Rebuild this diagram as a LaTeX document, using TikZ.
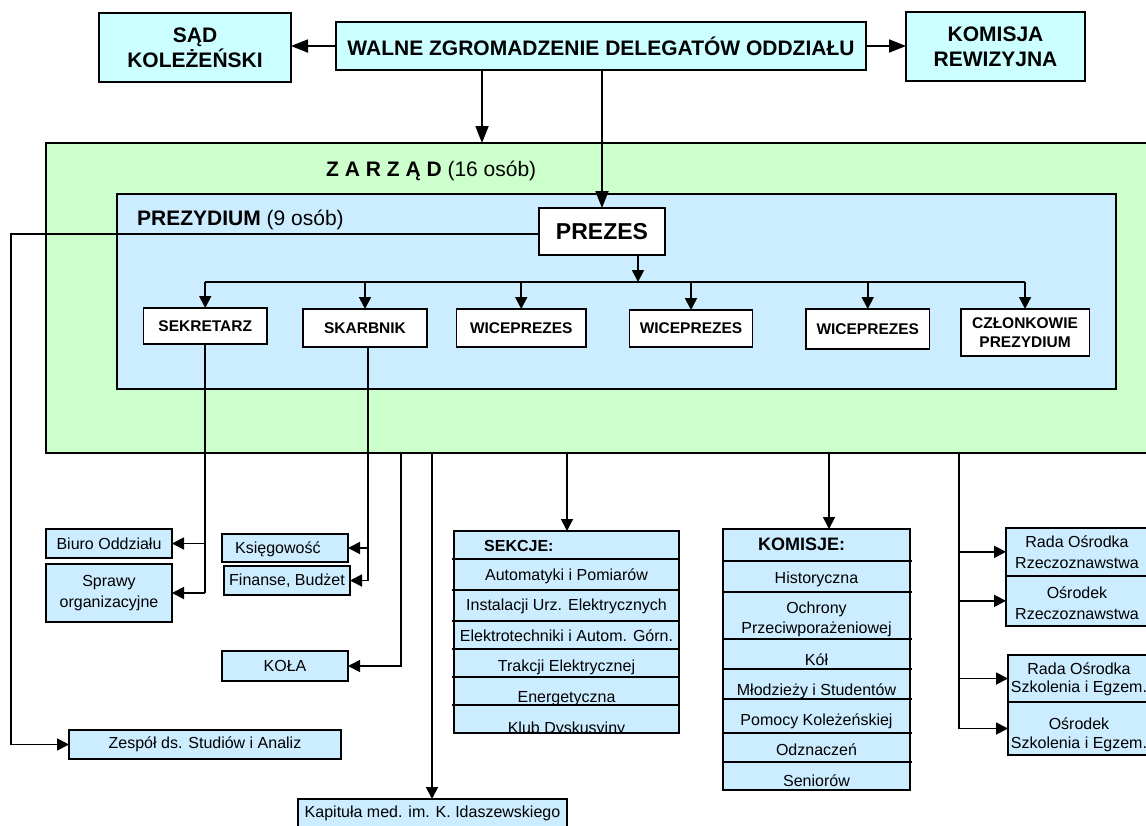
\documentclass[tikz,border=0pt]{standalone}
\usepackage{fontspec}
\setmainfont{Liberation Sans}
\usetikzlibrary{arrows.meta}
\definecolor{cyanbox}{HTML}{CCFFFF}
\definecolor{zarzadbg}{HTML}{CCFFCC}
\definecolor{prezbg}{HTML}{CCECFF}
\newcommand\myfs[2]{\fontsize{#1}{#2}\selectfont}
% \mybox{style}{name}{x1}{y1}{x2}{y2}{text}
\newcommand\mybox[7]{\node[#1, minimum width={(#5-#3)*1pt}, minimum height={(#6-#4)*1pt}] (#2) at ({(#3+#5)/2},{(#4+#6)/2}) {#7};}
\begin{document}
\begin{tikzpicture}[x=1pt,y=-1pt,
  rect/.style={draw=black,line width=1.8pt,inner sep=0pt,outer sep=0pt,align=center},
  topbox/.style={rect,fill=cyanbox,font=\myfs{21}{25}\bfseries},
  rolebox/.style={rect,fill=white,font=\myfs{15.5}{19}\bfseries},
  unitbox/.style={rect,fill=prezbg,font=\myfs{16}{20.5}},
  lbl/.style={inner sep=0pt,font=\myfs{16}{20}},
  blbl/.style={inner sep=0pt,font=\myfs{16}{20}\bfseries},
  conn/.style={line width=1.8pt},
  arr/.style={conn,-{Triangle[length=12pt,width=12pt]}},
  bigarr/.style={conn,-{Triangle[length=17pt,width=13pt]}},
  sep/.style={line width=1.8pt}
]
\useasboundingbox (0,0) rectangle (1146,825);

% ---------- top level ----------
\mybox{topbox}{sad}{99}{13}{291}{82}{SĄD\\KOLEŻEŃSKI}
\mybox{topbox}{walne}{336}{22}{866}{70}{WALNE ZGROMADZENIE DELEGATÓW ODDZIAŁU}
\mybox{topbox}{rew}{906}{12}{1085}{81}{KOMISJA\\REWIZYJNA}
\draw[bigarr] (walne.west) -- (walne.west -| sad.east);
\draw[bigarr] (walne.east) -- (walne.east -| rew.west);

% ---------- ZARZAD / PREZYDIUM ----------
\mybox{rect,fill=zarzadbg}{zarzad}{46}{143}{1152}{453}{}
\node[anchor=base west, inner sep=0pt, font=\myfs{21}{25}] (zlabel) at (326,176.5) {\textbf{Z A R Z Ą D} (16 osób)};
\mybox{rect,fill=prezbg}{prezydium}{117}{194}{1116}{389}{}
\node[anchor=base west, inner sep=0pt, font=\myfs{21}{25}] (plabel) at (137,225.5) {\textbf{PREZYDIUM} (9 osób)};

\coordinate (w1) at (482,70);
\coordinate (w2) at (602,70);
\draw[bigarr] (w1) -- (w1 |- zarzad.north);

\mybox{rect,fill=white,font=\myfs{23}{27}\bfseries}{prezes}{539}{208}{665}{255}{PREZES}
\draw[bigarr] (w2) -- (w2 |- prezes.north);

\mybox{rolebox}{sek}{143.5}{308}{267}{344}{SEKRETARZ}
\mybox{rolebox}{skarb}{303}{309}{427}{347}{SKARBNIK}
\mybox{rolebox}{wice1}{456.5}{309}{586}{347}{WICEPREZES}
\mybox{rolebox}{wice2}{629.5}{310}{752.5}{347}{WICEPREZES}
\mybox{rolebox}{wice3}{806}{309}{929.5}{349}{WICEPREZES}
\mybox{rolebox}{czl}{960.6}{309}{1089.5}{356}{CZŁONKOWIE\\PREZYDIUM}

\coordinate (pb) at (638,255);
\coordinate (busL) at (sek.north |- 0,282);
\coordinate (busR) at (czl.north |- 0,282);
\draw[arr] (prezes.south -| pb) -- (pb |- busL);
\draw[conn] (busL) -- (busR);
\foreach \b in {sek,skarb,wice1,wice2,wice3,czl}
  \draw[arr] (\b.north |- busL) -- (\b.north);

% ---------- lower left units ----------
\mybox{unitbox}{biuro}{46}{529}{172}{558}{Biuro Oddziału}
\mybox{unitbox}{sprawy}{46}{564}{172}{622}{Sprawy\\organizacyjne}
\mybox{unitbox}{ksieg}{222}{534}{348}{562}{}
\node[lbl, anchor=base west] (ksiegl) at (235,553.5) {Księgowość};
\mybox{unitbox}{fin}{224}{566}{350}{595}{Finanse, Budżet}
\mybox{unitbox}{kola}{222}{651}{348}{681}{KOŁA}
\mybox{unitbox}{zespol}{69}{730}{341}{759}{Zespół ds. Studiów i Analiz}
\mybox{unitbox}{kap}{298}{799}{567}{828}{Kapituła med. im. K. Idaszewskiego}

\draw[conn] (sek.south) -- (sek.south |- sprawy.east);
\draw[arr] (sek.south |- biuro.east) -- (biuro.east);
\draw[arr] (sek.south |- sprawy.east) -- (sprawy.east);

\coordinate (sk) at (368,347);
\draw[conn] (sk) -- (sk |- fin.east);
\draw[arr] (sk |- ksieg.east) -- (ksieg.east);
\draw[arr] (sk |- fin.east) -- (fin.east);

\coordinate (z3) at (400.7,453);
\coordinate (z4) at (432,453);
\draw[arr] (z3) |- (kola.east);
\draw[arr] (z4) -- (z4 |- kap.north);

\coordinate (lft) at (11,0);
\coordinate (pl) at (539,234);
\draw[arr] (pl) -- (pl -| lft) -- (lft |- zespol.west) -- (zespol.west);

% ---------- SEKCJE ----------
\mybox{unitbox}{sekcje}{454}{531}{679}{733}{}
\foreach \y in {558.7,590,620.7,649,677,705}
  \draw[sep] (452,\y) -- (679,\y);
\node[blbl, anchor=base west] (sk0) at (484,551) {SEKCJE:};
\node[lbl, anchor=base] (sk1) at (566.5,580) {Automatyki i Pomiarów};
\node[lbl, anchor=base] (sk2) at (566.5,610.7) {Instalacji Urz. Elektrycznych};
\node[lbl, anchor=base] (sk3) at (566.5,641) {Elektrotechniki i Autom. Górn.};
\node[lbl, anchor=base] (sk4) at (566.5,671) {Trakcji Elektrycznej};
\node[lbl, anchor=base] (sk5) at (566.5,702) {Energetyczna};
\begin{scope}
  \clip (454,705) rectangle (679,733);
  \node[lbl, anchor=base] (sk6) at (566.5,733) {Klub Dyskusyjny};
\end{scope}
\draw[sep] (454,705) -- (454,733) -- (679,733) -- (679,705);
\coordinate (z7) at (567,453);
\draw[arr] (z7) -- (z7 |- sekcje.north);

% ---------- KOMISJE ----------
\mybox{unitbox}{komisje}{723}{529}{910}{790}{}
\foreach \y in {560.7,592,638.7,669,698.7,733,762}
  \draw[sep] (723,\y) -- (912,\y);
\node[inner sep=0pt, font=\myfs{18}{22}\bfseries, anchor=base west] (km0) at (758,550) {KOMISJE:};
\node[lbl, anchor=base] (km1) at (816.5,583.3) {Historyczna};
\node[lbl, anchor=base] (km2a) at (816.5,613.3) {Ochrony};
\node[lbl, anchor=base] (km2b) at (816.5,633.3) {Przeciwporażeniowej};
\node[lbl, anchor=base] (km3) at (816.5,665) {Kół};
\node[lbl, anchor=base] (km4) at (816.5,695) {Młodzieży i Studentów};
\node[lbl, anchor=base] (km5) at (816.5,725.7) {Pomocy Koleżeńskiej};
\node[lbl, anchor=base] (km6) at (816.5,755) {Odznaczeń};
\node[lbl, anchor=base] (km7) at (816.5,786) {Seniorów};
\coordinate (z5) at (829,453);
\draw[arr] (z5) -- (z5 |- komisje.north);

% ---------- right column ----------
\mybox{unitbox}{rada1}{1006}{528}{1152}{575.7}{}
\mybox{unitbox}{osr1}{1006}{575.7}{1152}{626}{}
\mybox{unitbox}{rada2}{1008}{655}{1152}{702}{}
\mybox{unitbox}{osr2}{1008}{702}{1152}{755}{}
\node[lbl, anchor=base] (r1a) at (1077,547.3) {Rada Ośrodka};
\node[lbl, anchor=base] (r1b) at (1077,568.3) {Rzeczoznawstwa};
\node[lbl, anchor=base] (o1a) at (1077,598.3) {Ośrodek};
\node[lbl, anchor=base] (o1b) at (1077,619) {Rzeczoznawstwa};
\node[lbl, anchor=base] (r2a) at (1079,674.3) {Rada Ośrodka};
\node[lbl, anchor=base] (r2b) at (1079,692.3) {Szkolenia i Egzem.};
\node[lbl, anchor=base] (o2a) at (1079,729.3) {Ośrodek};
\node[lbl, anchor=base] (o2b) at (1079,748.3) {Szkolenia i Egzem.};

\coordinate (z6) at (959,453);
\draw[conn] (z6) -- (z6 |- osr2.west);
\draw[arr] (z6 |- rada1.west) -- (rada1.west);
\draw[arr] (z6 |- osr1.west) -- (osr1.west);
\draw[arr] (z6 |- rada2.west) -- (rada2.west);
\draw[arr] (z6 |- osr2.west) -- (osr2.west);
\end{tikzpicture}
\end{document}
